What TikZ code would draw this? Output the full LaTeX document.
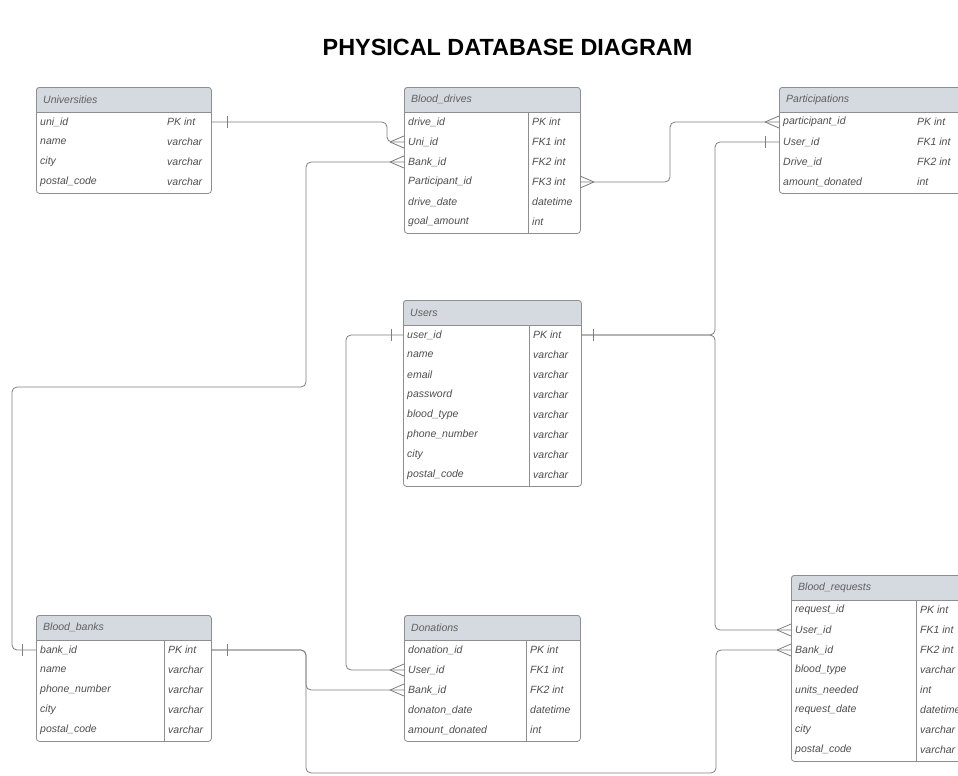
\documentclass[tikz,border=0pt]{standalone}
\usepackage{fontspec}
\setmainfont{Liberation Sans}
\usetikzlibrary{calc}

\definecolor{linegray}{HTML}{7F7F7F}
\definecolor{boxgray}{HTML}{8E8E8E}
\definecolor{hdrfill}{HTML}{D5D9E0}
\definecolor{txtgray}{HTML}{4E4E4E}

\tikzset{
  connline/.style={draw=linegray, line width=0.8pt, rounded corners=5pt},
  tickline/.style={draw=linegray, line width=0.8pt},
  tblborder/.style={draw=boxgray, line width=0.8pt, rounded corners=3pt, inner sep=0pt},
  rulerline/.style={draw=boxgray, line width=0.8pt},
  nodiv/.style={draw=none},
  fieldtxt/.style={font=\fontsize{10.5}{12}\selectfont\itshape, text=txtgray, inner sep=0pt, anchor=west},
  hdrtxt/.style={font=\fontsize{10.5}{12}\selectfont\itshape, text=txtgray!90, inner sep=0pt, anchor=west},
  titletxt/.style={font=\fontsize{23.4}{28}\selectfont\bfseries, text=black, inner sep=0pt},
  crowin/.pic={\draw[tickline] (-14,0) -- (0,-6) (-14,0) -- (0,6);},
  crowout/.pic={\draw[tickline] (14,0) -- (0,-6) (14,0) -- (0,6);},
  onebar/.pic={\draw[tickline] (0,-6) -- (0,6);},
}

% #1 name, #2 left, #3 top, #4 right, #5 column divider x, #6 row count,
% #7 divider style, #8 table title, #9 field/type rows
\newcommand{\erTable}[9]{%
  \pgfmathsetmacro{\tblbot}{#3+25+20*#6+1}
  \pgfmathsetmacro{\tblwd}{#4-#2}
  \pgfmathsetmacro{\tblht}{\tblbot-#3}
  \fill[hdrfill] (#2,#3+25) [rounded corners=3pt] -- (#2,#3) -- (#4,#3) [sharp corners] -- (#4,#3+25) -- cycle;
  \draw[rulerline] (#2,#3+25) -- (#4,#3+25);
  \draw[rulerline,#7] (#5,#3+25) -- (#5,\tblbot);
  \node[tblborder, anchor=north west, minimum width=\tblwd pt, minimum height=\tblht pt] (#1) at (#2,#3) {};
  \node[hdrtxt] (#1-title) at (#2+7,#3+12.5) {#8};
  \foreach \fname/\ftype [count=\i] in {#9} {
    \pgfmathsetmacro{\rowy}{#3+35+20*(\i-1)}
    \node[fieldtxt] (#1-\i-name) at (#2+4,\rowy) {\fname};
    \node[fieldtxt] (#1-\i-type) at (#5+4,\rowy) {\ftype};
    \coordinate (#1-\i-W) at (#2,\rowy);
    \coordinate (#1-\i-E) at (#4,\rowy);
  }
}

\begin{document}
\begin{tikzpicture}[x=1pt, y=-1pt]
  \clip (0,0) rectangle (958,776);
  \fill[white] (0,0) rectangle (958,776);

  \node[titletxt] (title) at (507.5,47) {PHYSICAL DATABASE DIAGRAM};

  % tables
  \erTable{Univ}{36}{87}{211}{163}{4}{nodiv}{Universities}{uni\_id/PK int, name/varchar, city/varchar, postal\_code/varchar}
  \erTable{Drives}{404}{87}{580}{528}{6}{rulerline}{Blood\_drives}{drive\_id/PK int, Uni\_id/FK1 int, Bank\_id/FK2 int, Participant\_id/FK3 int, drive\_date/datetime, goal\_amount/int}
  \erTable{Parts}{779}{87}{990}{913}{4}{nodiv}{Participations}{participant\_id/PK int, User\_id/FK1 int, Drive\_id/FK2 int, amount\_donated/int}
  \erTable{Users}{403}{300}{581}{529}{8}{rulerline}{Users}{user\_id/PK int, name/varchar, email/varchar, password/varchar, blood\_type/varchar, phone\_number/varchar, city/varchar, postal\_code/varchar}
  \erTable{Banks}{36}{615}{211}{164}{5}{rulerline}{Blood\_banks}{bank\_id/PK int, name/varchar, phone\_number/varchar, city/varchar, postal\_code/varchar}
  \erTable{Dons}{404}{615}{580}{526}{5}{rulerline}{Donations}{donation\_id/PK int, User\_id/FK1 int, Bank\_id/FK2 int, donaton\_date/datetime, amount\_donated/int}
  \erTable{Reqs}{791}{575}{990}{916}{8}{rulerline}{Blood\_requests}{request\_id/PK int, User\_id/FK1 int, Bank\_id/FK2 int, blood\_type/varchar, units\_needed/int, request\_date/datetime, city/varchar, postal\_code/varchar}

  % relationships
  \draw[connline] (Univ-1-E) -- (387,122) |- (Drives-2-W);
  \draw[connline] (Banks-1-W) -| (12,387) -| (306,162) -- (Drives-3-W);
  \draw[connline] (Drives-4-E) -- (670,182) |- (Parts-1-W);
  \draw[connline] (Users-1-E) -- (715,335) |- (Parts-2-W);
  \draw[connline] (Users-1-E) -- (715,335) |- (Reqs-2-W);
  \draw[connline] (Users-1-W) -- (346,335) |- (Dons-2-W);
  \draw[connline] (Banks-1-E) -- (306,650) |- (Dons-3-W);
  \draw[connline] (Banks-1-E) -- (306,650) -- (306,773) -| (716,650) -- (Reqs-3-W);

  % cardinality marks
  \pic at ($(Univ-1-E)+(16,0)$) {onebar};
  \pic at ($(Banks-1-W)+(-14,0)$) {onebar};
  \pic at ($(Banks-1-E)+(16,0)$) {onebar};
  \pic at ($(Users-1-E)+(12,0)$) {onebar};
  \pic at ($(Users-1-W)+(-12,0)$) {onebar};
  \pic at ($(Parts-2-W)+(-14,0)$) {onebar};
  \pic at (Drives-2-W) {crowin};
  \pic at (Drives-3-W) {crowin};
  \pic at (Drives-4-E) {crowout};
  \pic at (Parts-1-W) {crowin};
  \pic at (Dons-2-W) {crowin};
  \pic at (Dons-3-W) {crowin};
  \pic at (Reqs-2-W) {crowin};
  \pic at (Reqs-3-W) {crowin};
\end{tikzpicture}
\end{document}
